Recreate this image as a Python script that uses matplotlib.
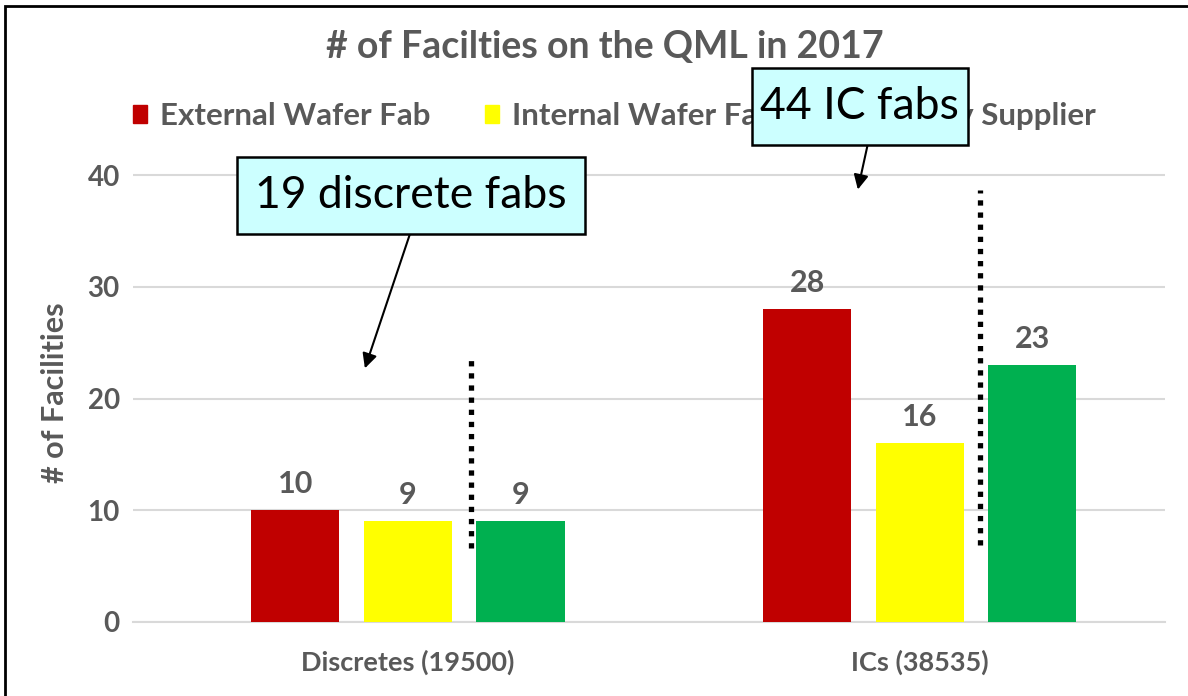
import matplotlib
matplotlib.use("Agg")
import matplotlib.pyplot as plt
import matplotlib.patches as mpatches
import numpy as np

# Chart data
categories = ["Discretes (19500)", "ICs (38535)"]
series_names = ["External Wafer Fab", "Internal Wafer Fab", "Foundry Supplier"]
series_values = [
    [10, 28],   # External Wafer Fab
    [9, 16],    # Internal Wafer Fab
    [9, 23],    # Supplier
]
colors = ["#C00000", "#FFFF00", "#00B050"]
y_ticks = [0, 10, 20, 30, 40]

gray = "#595959"
plt.rcParams["font.family"] = ["Lato", "DejaVu Sans"]

W, H = 1188, 696
fig = plt.figure(figsize=(W / 100, H / 100), dpi=100)

# axes placed in pixel terms
left, right, bottom_px = 133, 1165, 622
ymax = 42
px_per_unit = 111.75 / 10
top_px = bottom_px - ymax * px_per_unit
ax = fig.add_axes([left / W, (H - bottom_px) / H, (right - left) / W, (bottom_px - top_px) / H])

x = np.arange(len(categories))
step = 0.22
width = 0.172
for i, (name, vals) in enumerate(zip(series_names, series_values)):
    xs = x + (i - 1) * step
    bars = ax.bar(xs, vals, width=width, color=colors[i], label=name, zorder=3)
    for b, v in zip(bars, vals):
        ax.annotate(str(v), (b.get_x() + b.get_width() / 2, v), xytext=(0, 12.5),
                    textcoords="offset points", ha="center", va="baseline",
                    fontsize=22, fontweight="bold", color=gray, zorder=4)

ax.set_xlim(-0.537, 1.479)
ax.set_ylim(0, ymax)
ax.set_yticks(y_ticks, labels=[str(t) for t in y_ticks], fontsize=20, fontweight="bold", color=gray)
ax.set_xticks(x, labels=categories, fontsize=19.5, fontweight="bold", color=gray)
ax.grid(axis="y", color="#D9D9D9", linewidth=1.5, zorder=0)
for s in ["top", "right", "left"]:
    ax.spines[s].set_visible(False)
ax.spines["bottom"].set_color("#D9D9D9")
ax.spines["bottom"].set_linewidth(1.5)
ax.tick_params(axis="both", length=0)
ax.tick_params(axis="y", pad=9.5)
ax.tick_params(axis="x", pad=20)
fig.text(55 / W, 1 - 393 / H, "# of Facilities", rotation=90, ha="center", va="center",
         fontsize=22, fontweight="bold", color=gray)

# title and legend
fig.text(605 / W, 1 - 47 / H, "# of Facilties on the QML in 2017", ha="center", va="center",
         fontsize=27, fontweight="bold", color=gray)
handles = [mpatches.Patch(color=c) for c in colors]
leg = ax.legend(handles, series_names, loc="center left", bbox_to_anchor=(133 / W, 1 - 116 / H),
                bbox_transform=fig.transFigure, ncol=3, frameon=False, borderpad=0,
                borderaxespad=0, handlelength=0.45, handleheight=0.55, handletextpad=0.42,
                columnspacing=1.74, prop={"weight": "bold", "size": 22.5}, labelcolor=gray)
leg.set_zorder(5)

# dotted separators
ax.plot([0.123, 0.123], [6.6, 23.6], color="black", linestyle=(0, (1, 1.3)), linewidth=3.8,
        zorder=5, clip_on=False)
ax.plot([1.117, 1.117], [6.9, 38.7], color="black", linestyle=(0, (1, 1.3)), linewidth=3.8,
        zorder=5, clip_on=False)

# callouts: boxes (x0, x1, y0, y1 in data units), arrows, text
callouts = [
    ("19 discrete fabs", (-0.334, 0.346, 34.72, 41.61), (0.004, 34.72), (-0.084, 22.7)),
    ("44 IC fabs", (0.672, 1.094, 42.68, 49.57), (0.898, 42.68), (0.879, 38.7)),
]
for label, (x0, x1, y0, y1), start, end in callouts:
    ax.annotate("", xy=end, xytext=start,
                arrowprops=dict(arrowstyle="-|>", color="black", lw=1.5, mutation_scale=22,
                                shrinkA=0, shrinkB=0),
                zorder=6, annotation_clip=False)
    ax.add_patch(mpatches.Rectangle((x0, y0), x1 - x0, y1 - y0, facecolor="#CCFFFF",
                                    edgecolor="black", linewidth=1.8, zorder=7, clip_on=False))
    ax.text((x0 + x1) / 2, (y0 + y1) / 2, label, ha="center", va="center", fontsize=32,
            zorder=8, clip_on=False)

# outer frame
fig.patches.append(mpatches.Rectangle((5 / W, -0.05), 1.1, 1 - 6 / H + 0.05, transform=fig.transFigure,
                                      fill=False, edgecolor="black", linewidth=2, zorder=10))

fig.savefig("out.png", dpi=100)
